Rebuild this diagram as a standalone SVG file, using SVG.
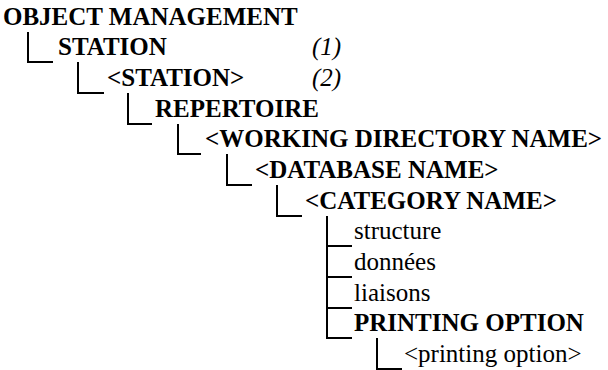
<svg xmlns="http://www.w3.org/2000/svg" width="608" height="370" viewBox="0 0 608 370">
<style>
.b{font-family:"Liberation Serif","Times New Roman",serif;font-size:25px;font-weight:bold;fill:#000}
.r{font-family:"Liberation Serif","Times New Roman",serif;font-size:25px;fill:#000}
.i{font-family:"Liberation Serif","Times New Roman",serif;font-size:25px;font-style:italic;fill:#000}
.c{fill:none;stroke:#000;stroke-width:2}
</style>
<rect width="608" height="370" fill="#fff"/>
<g id="connectors">
<path class="c" d="M28 32V62H53"/>
<path class="c" d="M78 62V93H104"/>
<path class="c" d="M128 93V124H152"/>
<path class="c" d="M178 124V154H201"/>
<path class="c" d="M227 154V185H252"/>
<path class="c" d="M277 185V216H302"/>
<path class="c" d="M327 216V338H352M327 246H352M327 277H352M327 308H352"/>
<path class="c" d="M377 338V369H402"/>
</g>
<g id="object-management"><text class="b" x="3" y="25">OBJECT MANAGEMENT</text></g>
<g id="station"><text class="b" x="58" y="55">STATION</text><text class="i" x="312" y="55">(1)</text></g>
<g id="station-inst"><text class="b" x="107" y="86">&lt;STATION&gt;</text><text class="i" x="312" y="86">(2)</text></g>
<g id="repertoire"><text class="b" x="155" y="117">REPERTOIRE</text></g>
<g id="working-directory"><text class="b" x="205" y="147">&lt;WORKING DIRECTORY NAME&gt;</text></g>
<g id="database"><text class="b" x="255" y="178">&lt;DATABASE NAME&gt;</text></g>
<g id="category"><text class="b" x="305" y="209">&lt;CATEGORY NAME&gt;</text></g>
<g id="structure"><text class="r" x="354" y="239">structure</text></g>
<g id="donnees"><text class="r" x="354" y="270">données</text></g>
<g id="liaisons"><text class="r" x="354" y="301">liaisons</text></g>
<g id="printing-option"><text class="b" x="354" y="331">PRINTING OPTION</text></g>
<g id="printing-option-inst"><text class="r" x="404" y="362">&lt;printing option&gt;</text></g>
</svg>
